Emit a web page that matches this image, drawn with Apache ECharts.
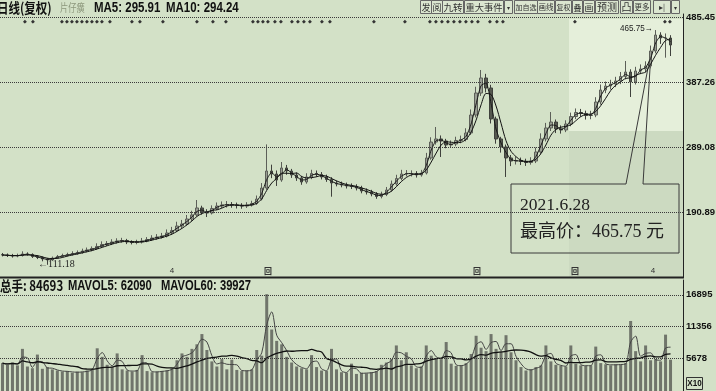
<!DOCTYPE html>
<html><head><meta charset="utf-8">
<script src="https://cdn.jsdelivr.net/npm/echarts@6/dist/echarts.min.js"></script>
<style>html,body{margin:0;padding:0;background:#d3e1c7}#c{width:716px;height:391px}</style>
</head><body><div id="c"></div>
<script>
// ---- data (one candle per ~5 trading days) ----
const openP = [126.5,125.9,125.2,124.4,125.2,127.5,126.7,123.7,122.2,119.9,
118.4,121.4,123.7,125.2,126.7,128.2,129.7,132.0,133.5,135.8,
138.8,141.8,143.3,145.6,147.1,147.8,145.6,144.8,145.6,147.1,
149.3,151.6,153.1,154.6,159.2,162.9,169.7,172.8,180.3,186.4,
197.0,190.9,189.4,196.2,199.9,201.5,202.2,201.5,200.7,199.9,
201.5,203.7,210.5,227.1,252.8,248.3,239.2,257.4,252.8,246.8,
242.3,236.2,243.8,249.0,247.5,243.8,240.0,234.7,233.2,231.7,
230.2,229.4,227.1,222.6,221.1,218.1,214.3,217.3,224.1,233.2,
241.5,248.3,249.0,249.0,246.8,249.8,272.5,296.6,301.2,298.1,
292.1,293.6,298.9,300.4,310.2,337.4,370.6,393.3,378.2,331.4,
301.2,289.1,272.5,267.9,268.7,267.2,265.7,267.9,281.5,301.2,
317.8,326.8,316.3,314.8,323.8,335.1,341.2,339.7,336.7,337.4,
357.0,375.2,381.2,384.2,388.8,395.6,402.3,387.3,403.9,406.9,
411.4,434.1,458.2,453.7,453.7];
const closeP = [125.9,125.2,124.4,125.2,127.5,126.7,123.7,122.2,119.9,118.4,
121.4,123.7,125.2,126.7,128.2,129.7,132.0,133.5,135.8,138.8,
141.8,143.3,145.6,147.1,147.8,145.6,144.8,145.6,147.1,149.3,
151.6,153.1,154.6,159.2,162.9,169.7,172.8,180.3,186.4,197.0,
190.9,189.4,196.2,199.9,201.5,202.2,201.5,200.7,199.9,201.5,
203.7,210.5,227.1,252.8,248.3,239.2,257.4,252.8,246.8,242.3,
236.2,243.8,249.0,247.5,243.8,240.0,234.7,233.2,231.7,230.2,
229.4,227.1,222.6,221.1,218.1,214.3,217.3,224.1,233.2,241.5,
248.3,249.0,249.0,246.8,249.8,272.5,296.6,301.2,298.1,292.1,
293.6,298.9,300.4,310.2,337.4,370.6,393.3,378.2,331.4,301.2,
289.1,272.5,267.9,268.7,267.2,265.7,267.9,281.5,301.2,317.8,
326.8,316.3,314.8,323.8,335.1,341.2,339.7,336.7,337.4,357.0,
375.2,381.2,384.2,388.8,395.6,402.3,387.3,403.9,406.9,411.4,
434.1,458.2,453.7,453.7,443.1];
const highP = [129.0,128.3,127.6,128.0,131.5,130.0,128.4,125.9,123.8,121.6,
123.6,126.0,127.9,129.4,131.6,132.8,135.5,137.2,138.9,143.6,
146.5,147.0,149.8,151.2,151.9,150.3,148.1,149.0,151.7,153.0,
155.8,157.5,159.3,164.6,168.4,176.2,178.9,186.4,192.8,209.0,
200.4,195.1,200.9,205.3,206.8,207.4,205.9,205.1,204.2,205.7,
207.9,215.8,234.6,293.0,262.4,253.6,266.4,262.0,256.0,250.6,
245.5,249.4,254.7,253.6,251.2,247.3,243.5,238.3,236.8,235.3,
234.1,232.8,230.5,226.5,224.4,221.0,221.6,228.7,238.4,247.1,
254.6,254.2,253.8,252.6,254.5,280.2,303.8,319.3,306.5,301.4,
299.0,304.6,306.3,317.4,345.8,380.1,405.4,399.6,383.0,335.0,
304.5,292.8,277.0,274.3,273.1,271.4,273.6,288.2,309.7,325.5,
341.9,330.6,321.7,329.4,341.0,347.3,346.6,344.0,343.8,364.3,
383.5,388.0,390.6,395.1,402.4,419.0,406.5,410.2,413.8,418.5,
442.3,465.75,462.4,460.6,458.0];
const lowP = [123.8,122.9,122.0,122.5,123.6,124.9,121.5,119.8,116.4,111.18,
116.8,120.2,122.4,123.6,125.0,126.3,127.9,130.1,131.6,134.0,
136.9,139.5,141.0,143.2,144.6,142.4,141.9,142.1,143.3,145.2,
147.4,149.0,150.8,152.5,156.3,160.6,166.2,170.5,177.2,184.2,
186.8,183.3,187.2,193.8,196.8,197.6,197.3,196.2,195.8,197.0,
199.1,201.6,208.3,224.5,242.0,230.2,236.5,247.1,242.4,237.9,
232.0,233.6,240.5,243.9,240.1,236.4,214.0,229.6,228.2,226.4,
225.6,223.5,219.1,217.3,214.6,210.8,211.5,214.9,221.5,230.6,
238.8,244.6,244.5,242.9,244.3,247.6,269.8,292.7,274.0,287.2,
287.9,290.3,294.7,297.6,307.3,333.8,366.2,371.5,324.6,294.1,
280.6,243.8,260.2,262.6,261.8,260.5,262.4,264.8,278.1,297.4,
313.2,310.1,309.3,311.5,320.4,331.2,334.8,330.5,331.0,334.1,
353.1,370.4,375.9,379.5,384.0,391.2,364.6,383.5,399.1,401.6,
408.0,430.5,444.8,424.0,426.5];
const volume = [4900,4600,5000,4500,7400,4300,4000,6400,3900,4200,
3800,3600,3400,3500,3200,3400,3300,3600,3900,7500,
6000,4600,4200,6600,3800,3600,3400,3700,6300,3500,
3300,3400,3500,3600,4000,5400,6600,6000,7400,8200,
10000,7200,5200,4300,5600,3800,5500,3700,3500,3600,
3800,7200,6200,17000,10800,8800,8200,6000,5000,4300,
4000,3800,6300,4200,3600,3500,7400,3800,3300,3200,
4800,3000,3200,3100,3300,3500,4600,5000,5600,8000,
5400,6800,4500,4000,4300,8000,6200,5800,5600,8600,
4800,4400,4500,4900,6500,9700,7600,7000,10000,7400,
6800,9800,6800,5400,4200,3600,3800,4200,4500,8000,
5200,4600,4400,4300,8000,4800,4500,4400,4500,7800,
4900,4700,4500,4700,4600,4900,12300,7000,5200,8000,
5400,5600,5200,9900,5500];
const priceTicks = [190.89, 289.08, 387.26, 485.45];
const volTicks = [5678, 11356, 16895];
const slotCount = 137;
const categories = Array.from({length: slotCount}, (_, i) => 'K' + (i + 1));

function movingAverage(arr, n) {
  return arr.map((_, i) => {
    const s = Math.max(0, i - n + 1);
    let sum = 0;
    for (let k = s; k <= i; k++) sum += arr[k];
    return +(sum / (i - s + 1)).toFixed(2);
  });
}

const candles = openP.map((o, i) => [o, closeP[i], lowP[i], highP[i]]);
const narrow = '"Liberation Sans","DejaVu Sans","Noto Sans CJK SC",sans-serif';
const cjk = '"Noto Sans CJK SC","Liberation Sans",sans-serif';

// ---- decorations ----
const g = [];
g.push({type:'rect', z:-10, silent:true, shape:{x:569,y:19,width:114,height:112}, style:{fill:'#e5efda'}});
g.push({type:'rect', z:-10, silent:true, shape:{x:569,y:131,width:114,height:146}, style:{fill:'#ccdac1'}});
g.push({type:'line', silent:true, shape:{x1:0,y1:277.5,x2:684,y2:277.5}, style:{stroke:'#222',lineWidth:2}});

function txt(x, y, s, font, fill, sx, align) {
  g.push({type:'text', x:x, y:y, scaleX:sx || 1, silent:true,
    style:{text:s, font:font, fill:fill || '#111', textAlign:align || 'left', textVerticalAlign:'middle'}});
}
txt(-3, 8, '日线(复权)', 'bold 14px ' + cjk, '#111', 0.82);
txt(60, 8, '片仔癀', '11px ' + cjk, '#8c977c', 0.75);
txt(94, 8, 'MA5: 295.91', 'bold 14px ' + narrow, '#111', 0.82);
txt(166, 8, 'MA10: 294.24', 'bold 14px ' + narrow, '#111', 0.82);
txt(0, 286, '总手: 84693', 'bold 14px ' + cjk, '#111', 0.82);
txt(68, 286, 'MAVOL5: 62090', 'bold 14px ' + narrow, '#111', 0.8);
txt(161, 286, 'MAVOL60: 39927', 'bold 14px ' + narrow, '#111', 0.8);

// toolbar
const tools = [[420,431,'发'],[431,442,'阅'],[442,463,'九转'],[464,503,'重大事件'],[504,512,'▾'],
  [514,537,'加自选'],[537,554,'画线'],[555,571,'复权'],[572,582,'叠'],[583,594,'画'],
  [595,618,'预测'],[620,632,'凸'],[633,650,'更多'],[653,670,'▸|'],[671,679,'▾']];
tools.forEach(t => {
  const w = t[1] - t[0];
  g.push({type:'rect', silent:true, shape:{x:t[0]+0.5,y:0.5,width:w,height:13}, style:{fill:'#dbe6d0',stroke:'#666',lineWidth:1}});
  const fs = Math.min(10, (w - 2) / Math.max(1, t[2].length));
  txt(t[0] + w / 2 + 0.5, 7.5, t[2], fs + 'px ' + cjk, '#333', 1, 'center');
});

// info diamonds under header
[25,33,62,67,72,77,82,87,92,97,102,110,132,140,163,197,213,226,253,258,263,268,275,281,292,298,304,310,322,330,
 374,405,430,436,442,448,454,460,466,472,478,490,497,503,575,665,670].forEach(x => {
  txt(x, 22, '◆', '5px "DejaVu Sans"', '#333', 1, 'center');
});
// period markers at bottom of price panel
txt(172, 271, '4', '8px ' + narrow, '#333', 1, 'center');
txt(268, 271, '回', 'bold 8px ' + cjk, '#333', 1, 'center');
txt(477, 271, '回', 'bold 8px ' + cjk, '#333', 1, 'center');
txt(575, 271, '回', 'bold 8px ' + cjk, '#333', 1, 'center');
txt(653, 271, '4', '8px ' + narrow, '#333', 1, 'center');

// extreme labels
txt(38, 264.5, '←111.18', '10px "Liberation Serif",serif', '#222');
txt(620, 29, '465.75→', '9px ' + narrow, '#222', 0.9);

// annotation callout
g.push({type:'polyline', silent:true, shape:{points:[[626,184],[511,184],[511,253],[679,253],[679,184],[643,184],[651,52],[626,184]]},
  style:{stroke:'#3a3a3a',lineWidth:1,fill:null}});
txt(520, 205, '2021.6.28', '17.5px "Liberation Serif",serif', '#222');
txt(520, 232, '最高价：465.75 元', '18px "Liberation Serif","Noto Sans CJK SC",serif', '#222');

// X10 box
g.push({type:'rect', silent:true, shape:{x:686.5,y:377.5,width:16,height:12}, style:{fill:null,stroke:'#333',lineWidth:1}});
txt(694.5, 384, 'X10', 'bold 9px ' + narrow, '#111', 0.9, 'center');

const tickLabel = {show:true, position:'end', distance:3, color:'#111', fontSize:9.5, fontWeight:'bold', fontFamily:'Liberation Sans'};
const dotted = {type:'dotted', color:'#3a3a3a', width:1};

const option = {
  animation: false,
  backgroundColor: '#d3e1c7',
  grid: [
    {left:0, right:33, top:14, bottom:114},
    {left:0, right:33, top:280, bottom:-3}
  ],
  xAxis: [
    {type:'category', data:categories, gridIndex:0, boundaryGap:true, show:false},
    {type:'category', data:categories, gridIndex:1, boundaryGap:true, show:false}
  ],
  yAxis: [
    {type:'value', gridIndex:0, position:'right', min:92.71, max:489.97,
     axisLine:{show:true, onZero:false, lineStyle:{color:'#222', width:1}}, axisTick:{show:false}, axisLabel:{show:false}, splitLine:{show:false}},
    {type:'value', gridIndex:1, position:'right', min:0, max:19494,
     axisLine:{show:true, onZero:false, lineStyle:{color:'#222', width:1}}, axisTick:{show:false}, axisLabel:{show:false}, splitLine:{show:false}}
  ],
  graphic: g,
  series: [
    {type:'candlestick', name:'K', xAxisIndex:0, yAxisIndex:0, data:candles, barWidth:3,
     itemStyle:{color:'#9a9f94', color0:'#55584f', borderColor:'#5c5f58', borderColor0:'#3f413c', borderWidth:1},
     markLine:{silent:true, symbol:['none','none'], lineStyle:dotted,
       label:Object.assign({formatter: p => Number(p.value).toFixed(2)}, tickLabel),
       data: priceTicks.map(v => ({yAxis:v}))}},
    {type:'line', name:'MA5', xAxisIndex:0, yAxisIndex:0, data:movingAverage(closeP, 2), symbol:'none', smooth:0.2,
     lineStyle:{color:'#1a1a1a', width:1}},
    {type:'line', name:'MA10', xAxisIndex:0, yAxisIndex:0, data:movingAverage(closeP, 4), symbol:'none', smooth:0.3,
     lineStyle:{color:'#111', width:1}},
    {type:'bar', name:'VOL', xAxisIndex:1, yAxisIndex:1, data:volume, barWidth:3,
     itemStyle:{color:'#70756b'},
     markLine:{silent:true, symbol:['none','none'], lineStyle:dotted,
       label:Object.assign({formatter: p => String(p.value)}, tickLabel),
       data: volTicks.map(v => ({yAxis:v}))}},
    {type:'line', name:'MAVOL5', xAxisIndex:1, yAxisIndex:1, data:movingAverage(volume, 2), symbol:'none', smooth:0.3,
     lineStyle:{color:'#444', width:1}},
    {type:'line', name:'MAVOL60', xAxisIndex:1, yAxisIndex:1, data:movingAverage(volume, 12), symbol:'none', smooth:0.3,
     lineStyle:{color:'#111', width:1.3}}
  ]
};
const chart = echarts.init(document.getElementById('c'), null, {renderer:'canvas', width:716, height:391});
chart.setOption(option);
</script>
</body></html>
